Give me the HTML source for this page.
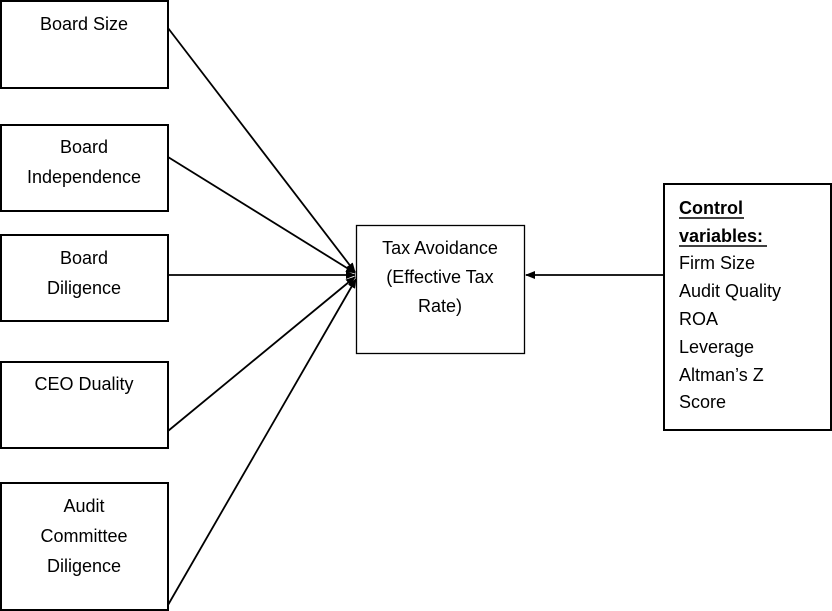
<!DOCTYPE html>
<html><head><meta charset="utf-8"><style>
body{margin:0;background:#fff}
svg{display:block}
text{font-family:"Liberation Sans",sans-serif;font-size:18px;fill:#000}
</style></head><body>
<svg width="832" height="611" viewBox="0 0 832 611">
<defs><marker id="a" markerWidth="10" markerHeight="10" refX="9" refY="5" orient="auto" markerUnits="userSpaceOnUse"><path d="M0,1 L10,5 L0,9 z" fill="#000"/></marker></defs>
<g fill="none" stroke="#000" stroke-width="2">
<rect x="1" y="1" width="167" height="87"/>
<rect x="1" y="125" width="167" height="86"/>
<rect x="1" y="235" width="167" height="86"/>
<rect x="1" y="362" width="167" height="86"/>
<rect x="1" y="483" width="167" height="127"/>
<rect x="664" y="184" width="167" height="246"/>
</g>
<rect x="356.5" y="225.5" width="168" height="128" fill="none" stroke="#000" stroke-width="1.3"/>
<g stroke="#000" stroke-width="1.8" marker-end="url(#a)">
<line x1="168" y1="28" x2="355" y2="272"/>
<line x1="168" y1="157" x2="355" y2="273"/>
<line x1="168" y1="275" x2="355" y2="275"/>
<line x1="168" y1="431" x2="355" y2="277"/>
<line x1="168" y1="605" x2="356" y2="279"/>
<line x1="663" y1="275" x2="526" y2="275"/>
</g>
<g text-anchor="middle">
<text x="84" y="30">Board Size</text>
<text x="84" y="153">Board</text>
<text x="84" y="183">Independence</text>
<text x="84" y="264">Board</text>
<text x="84" y="294">Diligence</text>
<text x="84" y="390">CEO Duality</text>
<text x="84" y="512">Audit</text>
<text x="84" y="542">Committee</text>
<text x="84" y="572">Diligence</text>
<text x="440" y="254">Tax Avoidance</text>
<text x="440" y="283">(Effective Tax</text>
<text x="440" y="312">Rate)</text>
</g>
<g>
<text x="679" y="214" font-weight="bold">Control</text>
<text x="679" y="242" font-weight="bold">variables:</text>
<text x="679" y="269">Firm Size</text>
<text x="679" y="297">Audit Quality</text>
<text x="679" y="325">ROA</text>
<text x="679" y="353">Leverage</text>
<text x="679" y="381">Altman’s Z</text>
<text x="679" y="408">Score</text>
</g>
<line x1="679" y1="218" x2="744" y2="218" stroke="#000" stroke-width="1.5"/>
<line x1="679" y1="246" x2="767" y2="246" stroke="#000" stroke-width="1.5"/>
</svg>
</body></html>
